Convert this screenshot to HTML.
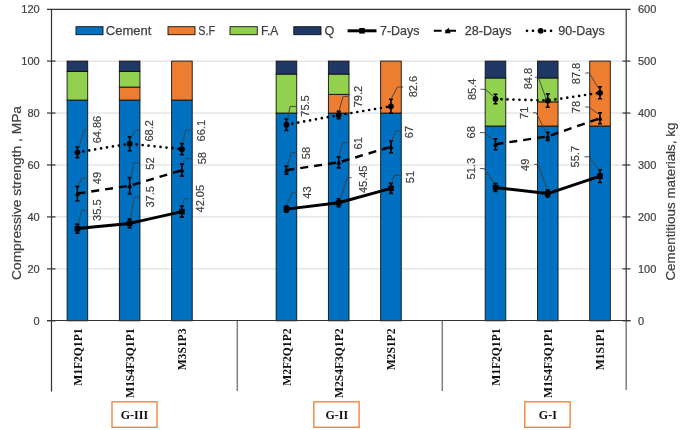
<!DOCTYPE html>
<html><head><meta charset="utf-8"><title>Chart</title>
<style>html,body{margin:0;padding:0;background:#fff;width:685px;height:430px;overflow:hidden}svg{display:block;font-family:"Liberation Sans",sans-serif;filter:blur(0.35px)}</style>
</head><body>
<svg width="685" height="430" viewBox="0 0 685 430">
<rect width="685" height="430" fill="#fff"/>
<line x1="51" y1="268.86" x2="627" y2="268.86" stroke="#D9D9D9" stroke-width="1"/>
<line x1="51" y1="216.92" x2="627" y2="216.92" stroke="#D9D9D9" stroke-width="1"/>
<line x1="51" y1="164.98" x2="627" y2="164.98" stroke="#D9D9D9" stroke-width="1"/>
<line x1="51" y1="113.04" x2="627" y2="113.04" stroke="#D9D9D9" stroke-width="1"/>
<line x1="51" y1="61.1" x2="627" y2="61.1" stroke="#D9D9D9" stroke-width="1"/>
<rect x="67.1" y="100.06" width="20.6" height="220.74" fill="#0070C0" stroke="#111" stroke-width="0.9"/>
<rect x="67.1" y="71.49" width="20.6" height="28.57" fill="#92D050" stroke="#111" stroke-width="0.9"/>
<rect x="67.1" y="61.1" width="20.6" height="10.39" fill="#203864" stroke="#111" stroke-width="0.9"/>
<rect x="119.36" y="100.06" width="20.6" height="220.74" fill="#0070C0" stroke="#111" stroke-width="0.9"/>
<rect x="119.36" y="87.07" width="20.6" height="12.99" fill="#ED7D31" stroke="#111" stroke-width="0.9"/>
<rect x="119.36" y="71.49" width="20.6" height="15.58" fill="#92D050" stroke="#111" stroke-width="0.9"/>
<rect x="119.36" y="61.1" width="20.6" height="10.39" fill="#203864" stroke="#111" stroke-width="0.9"/>
<rect x="171.62" y="100.06" width="20.6" height="220.74" fill="#0070C0" stroke="#111" stroke-width="0.9"/>
<rect x="171.62" y="61.1" width="20.6" height="38.96" fill="#ED7D31" stroke="#111" stroke-width="0.9"/>
<rect x="276.14" y="113.04" width="20.6" height="207.76" fill="#0070C0" stroke="#111" stroke-width="0.9"/>
<rect x="276.14" y="74.09" width="20.6" height="38.95" fill="#92D050" stroke="#111" stroke-width="0.9"/>
<rect x="276.14" y="61.1" width="20.6" height="12.99" fill="#203864" stroke="#111" stroke-width="0.9"/>
<rect x="328.4" y="113.04" width="20.6" height="207.76" fill="#0070C0" stroke="#111" stroke-width="0.9"/>
<rect x="328.4" y="94.34" width="20.6" height="18.7" fill="#ED7D31" stroke="#111" stroke-width="0.9"/>
<rect x="328.4" y="74.09" width="20.6" height="20.26" fill="#92D050" stroke="#111" stroke-width="0.9"/>
<rect x="328.4" y="61.1" width="20.6" height="12.99" fill="#203864" stroke="#111" stroke-width="0.9"/>
<rect x="380.66" y="113.04" width="20.6" height="207.76" fill="#0070C0" stroke="#111" stroke-width="0.9"/>
<rect x="380.66" y="61.1" width="20.6" height="51.94" fill="#ED7D31" stroke="#111" stroke-width="0.9"/>
<rect x="485.18" y="126.03" width="20.6" height="194.77" fill="#0070C0" stroke="#111" stroke-width="0.9"/>
<rect x="485.18" y="77.98" width="20.6" height="48.04" fill="#92D050" stroke="#111" stroke-width="0.9"/>
<rect x="485.18" y="61.1" width="20.6" height="16.88" fill="#203864" stroke="#111" stroke-width="0.9"/>
<rect x="537.44" y="126.03" width="20.6" height="194.77" fill="#0070C0" stroke="#111" stroke-width="0.9"/>
<rect x="537.44" y="101.87" width="20.6" height="24.15" fill="#ED7D31" stroke="#111" stroke-width="0.9"/>
<rect x="537.44" y="77.98" width="20.6" height="23.89" fill="#92D050" stroke="#111" stroke-width="0.9"/>
<rect x="537.44" y="61.1" width="20.6" height="16.88" fill="#203864" stroke="#111" stroke-width="0.9"/>
<rect x="589.7" y="126.03" width="20.6" height="194.77" fill="#0070C0" stroke="#111" stroke-width="0.9"/>
<rect x="589.7" y="61.1" width="20.6" height="64.93" fill="#ED7D31" stroke="#111" stroke-width="0.9"/>
<g fill="none" stroke="#7f7f7f" stroke-width="1.5">
<line x1="237.3" y1="320.5" x2="237.3" y2="391"/>
<line x1="442.3" y1="320.5" x2="442.3" y2="391"/>
<line x1="626.2" y1="320.5" x2="626.2" y2="390"/>
</g>
<g stroke="#333" stroke-width="1.2" fill="none">
<line x1="47" y1="9.4" x2="630.5" y2="9.4"/>
<line x1="47" y1="320.5" x2="630.5" y2="320.5"/>
<line x1="51.5" y1="9" x2="51.5" y2="391.5"/>
<line x1="626.2" y1="9" x2="626.2" y2="320.5"/>
<line x1="47" y1="320.8" x2="55.5" y2="320.8"/>
<line x1="622.5" y1="320.8" x2="630.5" y2="320.8"/>
<line x1="47" y1="268.86" x2="55.5" y2="268.86"/>
<line x1="622.5" y1="268.86" x2="630.5" y2="268.86"/>
<line x1="47" y1="216.92" x2="55.5" y2="216.92"/>
<line x1="622.5" y1="216.92" x2="630.5" y2="216.92"/>
<line x1="47" y1="164.98" x2="55.5" y2="164.98"/>
<line x1="622.5" y1="164.98" x2="630.5" y2="164.98"/>
<line x1="47" y1="113.04" x2="55.5" y2="113.04"/>
<line x1="622.5" y1="113.04" x2="630.5" y2="113.04"/>
<line x1="47" y1="61.1" x2="55.5" y2="61.1"/>
<line x1="622.5" y1="61.1" x2="630.5" y2="61.1"/>
</g>
<g font-family="Liberation Sans, sans-serif" font-size="11" fill="#404040" stroke="#404040" stroke-width="0.2">
<text x="39.7" y="324.7" text-anchor="end">0</text>
<text x="638" y="324.7">0</text>
<text x="39.7" y="272.76" text-anchor="end">20</text>
<text x="638" y="272.76">100</text>
<text x="39.7" y="220.82" text-anchor="end">40</text>
<text x="638" y="220.82">200</text>
<text x="39.7" y="168.88" text-anchor="end">60</text>
<text x="638" y="168.88">300</text>
<text x="39.7" y="116.94" text-anchor="end">80</text>
<text x="638" y="116.94">400</text>
<text x="39.7" y="65" text-anchor="end">100</text>
<text x="638" y="65">500</text>
<text x="39.7" y="13.06" text-anchor="end">120</text>
<text x="638" y="13.06">600</text>
</g>
<text transform="translate(21.3,193) rotate(-90)" text-anchor="middle" font-family="Liberation Sans, sans-serif" font-size="13.2" fill="#404040" stroke="#404040" stroke-width="0.2" textLength="174" lengthAdjust="spacingAndGlyphs">Compressive strength , MPa</text>
<text transform="translate(675.2,201.6) rotate(-90)" text-anchor="middle" font-family="Liberation Sans, sans-serif" font-size="13.2" fill="#404040" stroke="#404040" stroke-width="0.2" textLength="158" lengthAdjust="spacingAndGlyphs">Cementitious materials, kg</text>
<path d="M77.4 224.11V233.11M75.4 224.11H79.4M75.4 233.11H79.4M129.66 219.11V227.71M127.66 219.11H131.66M127.66 227.71H131.66M181.92 206.1V217.1M179.92 206.1H183.92M179.92 217.1H183.92M286.44 206.13V212.13M284.44 206.13H288.44M284.44 212.13H288.44M338.7 198.77V206.77M336.7 198.77H340.7M336.7 206.77H340.7M390.96 183.35V193.35M388.96 183.35H392.96M388.96 193.35H392.96M495.48 183.57V191.57M493.48 183.57H497.48M493.48 191.57H497.48M547.74 190.05V197.05M545.74 190.05H549.74M545.74 197.05H549.74M600 169.75V182.55M598 169.75H602M598 182.55H602" stroke="#000" stroke-width="1.6" fill="none"/>
<path d="M77.4 186.35V200.75M75.4 186.35H79.4M75.4 200.75H79.4M129.66 177.56V193.96M127.66 177.56H131.66M127.66 193.96H131.66M181.92 164.17V176.17M179.92 164.17H183.92M179.92 176.17H183.92M286.44 166.17V174.17M284.44 166.17H288.44M284.44 174.17H288.44M338.7 156.88V167.88M336.7 156.88H340.7M336.7 167.88H340.7M390.96 140.8V152.8M388.96 140.8H392.96M388.96 152.8H392.96M495.48 138.7V149.7M493.48 138.7H497.48M493.48 149.7H497.48M547.74 132.41V140.41M545.74 132.41H549.74M545.74 140.41H549.74M600 112.73V123.73M598 112.73H602M598 123.73H602" stroke="#000" stroke-width="1.6" fill="none"/>
<path d="M77.4 147.06V157.66M75.4 147.06H79.4M75.4 157.66H79.4M129.66 136.68V150.68M127.66 136.68H131.66M127.66 150.68H131.66M181.92 143.64V154.64M179.92 143.64H183.92M179.92 154.64H183.92M286.44 118.93V130.53M284.44 118.93H288.44M284.44 130.53H288.44M338.7 111.42V118.82M336.7 111.42H340.7M336.7 118.82H340.7M390.96 99.29V113.29M388.96 99.29H392.96M388.96 113.29H392.96M495.48 94.22V103.82M493.48 94.22H497.48M493.48 103.82H497.48M547.74 93.87V107.27M545.74 93.87H549.74M545.74 107.27H549.74M600 86.78V98.78M598 86.78H602M598 98.78H602" stroke="#000" stroke-width="1.6" fill="none"/>
<polyline points="77.4,228.61 129.66,223.41 181.92,211.6" fill="none" stroke="#000" stroke-width="3" stroke-linejoin="round"/>
<polyline points="77.4,193.55 129.66,185.76 181.92,170.17" fill="none" stroke="#000" stroke-width="2.4" stroke-dasharray="8 6"/>
<polyline points="77.4,152.36 129.66,143.68 181.92,149.14" fill="none" stroke="#000" stroke-width="2.7" stroke-dasharray="0 6" stroke-linecap="round"/>
<polyline points="286.44,209.13 338.7,202.77 390.96,188.35" fill="none" stroke="#000" stroke-width="3" stroke-linejoin="round"/>
<polyline points="286.44,170.17 338.7,162.38 390.96,146.8" fill="none" stroke="#000" stroke-width="2.4" stroke-dasharray="8 6"/>
<polyline points="286.44,124.73 338.7,115.12 390.96,106.29" fill="none" stroke="#000" stroke-width="2.7" stroke-dasharray="0 6" stroke-linecap="round"/>
<polyline points="495.48,187.57 547.74,193.55 600,176.15" fill="none" stroke="#000" stroke-width="3" stroke-linejoin="round"/>
<polyline points="495.48,144.2 547.74,136.41 600,118.23" fill="none" stroke="#000" stroke-width="2.4" stroke-dasharray="8 6"/>
<polyline points="495.48,99.02 547.74,100.57 600,92.78" fill="none" stroke="#000" stroke-width="2.7" stroke-dasharray="0 6" stroke-linecap="round"/>
<rect x="74.6" y="225.81" width="5.6" height="5.6" fill="#000"/>
<path d="M74.8 195.75L77.4 190.95L80 195.75Z" fill="#000"/>
<circle cx="77.4" cy="152.36" r="2.9" fill="#000"/>
<rect x="126.86" y="220.61" width="5.6" height="5.6" fill="#000"/>
<path d="M127.06 187.96L129.66 183.16L132.26 187.96Z" fill="#000"/>
<circle cx="129.66" cy="143.68" r="2.9" fill="#000"/>
<rect x="179.12" y="208.8" width="5.6" height="5.6" fill="#000"/>
<path d="M179.32 172.37L181.92 167.57L184.52 172.37Z" fill="#000"/>
<circle cx="181.92" cy="149.14" r="2.9" fill="#000"/>
<rect x="283.64" y="206.33" width="5.6" height="5.6" fill="#000"/>
<path d="M283.84 172.37L286.44 167.57L289.04 172.37Z" fill="#000"/>
<circle cx="286.44" cy="124.73" r="2.9" fill="#000"/>
<rect x="335.9" y="199.97" width="5.6" height="5.6" fill="#000"/>
<path d="M336.1 164.58L338.7 159.78L341.3 164.58Z" fill="#000"/>
<circle cx="338.7" cy="115.12" r="2.9" fill="#000"/>
<rect x="388.16" y="185.55" width="5.6" height="5.6" fill="#000"/>
<path d="M388.36 149L390.96 144.2L393.56 149Z" fill="#000"/>
<circle cx="390.96" cy="106.29" r="2.9" fill="#000"/>
<rect x="492.68" y="184.77" width="5.6" height="5.6" fill="#000"/>
<path d="M492.88 146.4L495.48 141.6L498.08 146.4Z" fill="#000"/>
<circle cx="495.48" cy="99.02" r="2.9" fill="#000"/>
<rect x="544.94" y="190.75" width="5.6" height="5.6" fill="#000"/>
<path d="M545.14 138.61L547.74 133.81L550.34 138.61Z" fill="#000"/>
<circle cx="547.74" cy="100.57" r="2.9" fill="#000"/>
<rect x="597.2" y="173.35" width="5.6" height="5.6" fill="#000"/>
<path d="M597.4 120.43L600 115.63L602.6 120.43Z" fill="#000"/>
<circle cx="600" cy="92.78" r="2.9" fill="#000"/>
<g fill="none" stroke="#404040" stroke-width="0.9">
<polyline points="78.8,146.8 84.4,129.7 87.5,129.7"/>
<polyline points="131,137 135.1,130.4 138.6,130.4"/>
<polyline points="182.5,143 185.8,130 190.7,130"/>
<polyline points="78,186 82,178 87,178"/>
<polyline points="130.5,178 133.8,162.7 139.4,162.7"/>
<polyline points="182.5,163 185.8,158.6 191.4,158.6"/>
<polyline points="78,224 82,210.2 87,210.2"/>
<polyline points="130.5,218 134.2,197.4 139.4,197.4"/>
<polyline points="182.5,205 184.2,198.7 188.6,198.7"/>
<polyline points="287.5,119 290.1,106.4 296,106.4"/>
<polyline points="339,111 343.1,96.4 348,96.4"/>
<polyline points="391,99 397.5,87 403.3,87"/>
<polyline points="287,166.3 291.4,152.6 296.6,152.6"/>
<polyline points="339,157 342.3,142.6 348.5,142.6"/>
<polyline points="391.5,141 395.6,131.2 400.9,131.2"/>
<polyline points="287,205 292,192.8 296.8,192.8"/>
<polyline points="340.4,198.7 347.4,177.7 351.5,177.7"/>
<polyline points="391.5,183 394,175.3 399.8,175.3"/>
<polyline points="494,97 485.5,89.3 480.5,89.3"/>
<polyline points="546.6,100.3 538.3,77.2 535,77.2"/>
<polyline points="598.8,88.8 589.3,73 585.2,73"/>
<polyline points="494,140 484,132.6 479.9,132.6"/>
<polyline points="546.6,133.8 536.2,112.8 533,112.8"/>
<polyline points="598,113.9 589,107 585.2,107"/>
<polyline points="494,182.8 484.1,168.6 479.9,168.6"/>
<polyline points="547,189 538,164.4 534.3,164.4"/>
<polyline points="598.7,169.9 589,156.8 584.4,156.8"/>
</g>
<g font-family="Liberation Sans, sans-serif" font-size="11" fill="#404040" text-anchor="middle" stroke="#404040" stroke-width="0.2">
<text transform="translate(101.3,129.6) rotate(-90)">64.86</text>
<text transform="translate(152.7,130.9) rotate(-90)">68.2</text>
<text transform="translate(205.2,130.7) rotate(-90)">66.1</text>
<text transform="translate(100.7,178.1) rotate(-90)">49</text>
<text transform="translate(154.1,163.5) rotate(-90)">52</text>
<text transform="translate(205.7,158.2) rotate(-90)">58</text>
<text transform="translate(100.7,210.2) rotate(-90)">35.5</text>
<text transform="translate(154.1,196.8) rotate(-90)">37.5</text>
<text transform="translate(203.9,198.7) rotate(-90)">42.05</text>
<text transform="translate(309,106) rotate(-90)">75.5</text>
<text transform="translate(362,96.6) rotate(-90)">79.2</text>
<text transform="translate(416.7,86.6) rotate(-90)">82.6</text>
<text transform="translate(310.2,153) rotate(-90)">58</text>
<text transform="translate(362,143.3) rotate(-90)">61</text>
<text transform="translate(413.1,132) rotate(-90)">67</text>
<text transform="translate(311.3,192.6) rotate(-90)">43</text>
<text transform="translate(366.6,179.3) rotate(-90)">45.45</text>
<text transform="translate(413.6,177) rotate(-90)">51</text>
<text transform="translate(475.7,89.4) rotate(-90)">85.4</text>
<text transform="translate(532.4,78.6) rotate(-90)">84.8</text>
<text transform="translate(579.9,73.5) rotate(-90)">87.8</text>
<text transform="translate(475.1,132.3) rotate(-90)">68</text>
<text transform="translate(528.2,112.8) rotate(-90)">71</text>
<text transform="translate(579.9,107) rotate(-90)">78</text>
<text transform="translate(475.1,168.7) rotate(-90)">51.3</text>
<text transform="translate(528.9,164.8) rotate(-90)">49</text>
<text transform="translate(579.2,156.7) rotate(-90)">55.7</text>
</g>
<g stroke="#111" stroke-width="0.9">
<rect x="76" y="26.7" width="27" height="8" fill="#0070C0"/>
<rect x="168" y="26.7" width="27" height="8" fill="#ED7D31"/>
<rect x="230" y="26.7" width="27.3" height="8" fill="#92D050"/>
<rect x="293.8" y="26.7" width="27.2" height="8" fill="#203864"/>
</g>
<line x1="347.6" y1="30.8" x2="376.5" y2="30.8" stroke="#000" stroke-width="3"/>
<rect x="359.2" y="28" width="5.6" height="5.6" fill="#000"/>
<path d="M433.8 30.7H441.7M445.2 30.7H456" stroke="#000" stroke-width="2.1"/>
<path d="M444.6 33.3L448.4 27.4L450.6 33.3Z" fill="#000"/>
<line x1="527" y1="30.8" x2="554" y2="30.8" stroke="#000" stroke-width="2.7" stroke-dasharray="0 6" stroke-linecap="round"/>
<circle cx="540.7" cy="30.8" r="2.9" fill="#000"/>
<g font-family="Liberation Sans, sans-serif" font-size="12.5" fill="#404040" stroke="#404040" stroke-width="0.25">
<text x="105.8" y="34.6" textLength="45.5" lengthAdjust="spacingAndGlyphs">Cement</text>
<text x="198.2" y="34.6" textLength="16.8" lengthAdjust="spacingAndGlyphs">S.F</text>
<text x="261" y="34.6" textLength="17.3" lengthAdjust="spacingAndGlyphs">F.A</text>
<text x="324.5" y="34.6" textLength="9.8" lengthAdjust="spacingAndGlyphs">Q</text>
<text x="380" y="34.6" textLength="39.4" lengthAdjust="spacingAndGlyphs">7-Days</text>
<text x="464.7" y="34.6" textLength="46.9" lengthAdjust="spacingAndGlyphs">28-Days</text>
<text x="558.2" y="34.6" textLength="46.5" lengthAdjust="spacingAndGlyphs">90-Days</text>
</g>
<g font-family="Liberation Serif, serif" font-weight="bold" font-size="11.6" fill="#111" text-anchor="end">
<text transform="translate(81.5,328.5) rotate(-90) scale(1,1.05)">M1F2Q1P1</text>
<text transform="translate(133.76,328.5) rotate(-90) scale(1,1.05)">M1S4F3Q1P1</text>
<text transform="translate(186.02,328.5) rotate(-90) scale(1,1.05)">M3S1P3</text>
<text transform="translate(290.54,328.5) rotate(-90) scale(1,1.05)">M2F2Q1P2</text>
<text transform="translate(342.8,328.5) rotate(-90) scale(1,1.05)">M2S4F3Q1P2</text>
<text transform="translate(395.06,328.5) rotate(-90) scale(1,1.05)">M2S1P2</text>
<text transform="translate(499.58,328.5) rotate(-90) scale(1,1.05)">M1F2Q1P1</text>
<text transform="translate(551.84,328.5) rotate(-90) scale(1,1.05)">M1S4F3Q1P1</text>
<text transform="translate(604.1,328.5) rotate(-90) scale(1,1.05)">M1S1P1</text>
</g>
<g fill="none" stroke="#ED7D31" stroke-width="1.3">
<rect x="112" y="401.8" width="45" height="25.5"/>
<rect x="313.8" y="401.8" width="45.3" height="25.5"/>
<rect x="524.8" y="401.8" width="45.3" height="25.5"/>
</g>
<g font-family="Liberation Serif, serif" font-weight="bold" font-size="12" fill="#111" text-anchor="middle">
<text x="134.4" y="418.5">G-III</text>
<text x="336.8" y="418.5">G-II</text>
<text x="547.8" y="418.5">G-I</text>
</g>
</svg>
</body></html>
